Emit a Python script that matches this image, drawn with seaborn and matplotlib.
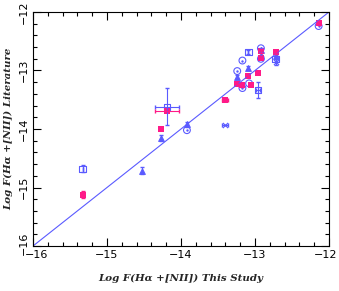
import matplotlib
matplotlib.use("Agg")
import matplotlib.pyplot as plt
import matplotlib.transforms as mtransforms
import seaborn as sns
import numpy as np
import pandas as pd
from matplotlib.ticker import MultipleLocator

# Pink filled squares
pink_x = [-15.33, -14.27, -14.19, -13.41, -13.24, -13.17, -13.09, -13.06, -12.96, -12.92, -12.92, -12.72, -12.14]
pink_y = [-15.12, -14.00, -13.69, -13.50, -13.23, -13.25, -13.10, -13.24, -13.04, -12.67, -12.78, -12.69, -12.19]
pink_xerr = [0.0, 0.0, 0.16, 0.04, 0.0, 0.0, 0.0, 0.0, 0.02, 0.0, 0.0, 0.0, 0.0]
pink_yerr = [0.06, 0.0, 0.0, 0.0, 0.0, 0.04, 0.0, 0.0, 0.0, 0.03, 0.03, 0.03, 0.03]

# Blue open squares
bsq_x = [-15.33, -14.19, -13.09, -12.96, -12.72]
bsq_y = [-14.68, -13.62, -12.68, -13.33, -12.80]
bsq_xerr = [0.0, 0.16, 0.0, 0.03, 0.0]
bsq_yerr = [0.06, 0.32, 0.03, 0.14, 0.05]

# Blue triangles
btr_x = [-14.53, -14.27, -13.92, -13.24, -13.09, -12.92, -12.72]
btr_y = [-14.71, -14.16, -13.92, -13.11, -12.96, -12.65, -12.75]
btr_yerr = [0.06, 0.05, 0.04, 0.03, 0.04, 0.04, 0.04]

# Blue circled dots
bci_x = [-13.92, -13.24, -13.17, -13.17, -13.08, -12.92, -12.92, -12.14]
bci_y = [-14.02, -13.01, -12.83, -13.30, -13.22, -12.62, -12.80, -12.24]

# Blue crosses
bcr_x = [-13.41, -12.72, -12.92]
bcr_y = [-13.94, -12.85, -12.72]
bcr_xerr = [0.04, 0.0, 0.0]
bcr_yerr = [0.0, 0.05, 0.03]

xticks = [-16, -15, -14, -13, -12]
yticks = [-16, -15, -14, -13, -12]

BLUE = "#5a5aff"
PINK = "#ff1a88"

sns.set_style("ticks")
fig = plt.figure(figsize=(3.39, 2.91), dpi=100)
ax = fig.add_axes([0.0973, 0.1546, 0.8732, 0.8042])

ax.plot([-16, -12], [-16, -12], color=BLUE, lw=0.8)

ax.errorbar(bsq_x, bsq_y, xerr=bsq_xerr, yerr=bsq_yerr, fmt="none", ecolor=BLUE, elinewidth=0.8, capsize=1.5)
ax.errorbar(btr_x, btr_y, yerr=btr_yerr, fmt="none", ecolor=BLUE, elinewidth=0.8, capsize=1.5)
ax.errorbar(bcr_x, bcr_y, xerr=bcr_xerr, yerr=bcr_yerr, fmt="none", ecolor=BLUE, elinewidth=0.8, capsize=1.5)
ax.errorbar(pink_x, pink_y, xerr=pink_xerr, yerr=pink_yerr, fmt="none", ecolor=PINK, elinewidth=0.8, capsize=1.5)

sns.scatterplot(x=bsq_x, y=bsq_y, marker="s", s=22, facecolor="none", edgecolor=BLUE, linewidth=0.8, ax=ax)
sns.scatterplot(x=btr_x, y=btr_y, marker="^", s=18, color=BLUE, edgecolor=BLUE, linewidth=0.6, ax=ax)
sns.scatterplot(x=bci_x, y=bci_y, marker="o", s=24, facecolor="none", edgecolor=BLUE, linewidth=0.8, ax=ax)
sns.scatterplot(x=bci_x, y=bci_y, marker="o", s=3, color=BLUE, edgecolor=BLUE, linewidth=0, ax=ax)
sns.scatterplot(x=bcr_x, y=bcr_y, marker="x", s=14, color=BLUE, linewidth=0.8, ax=ax)
sns.scatterplot(x=pink_x, y=pink_y, marker="s", s=14, color=PINK, edgecolor=PINK, linewidth=0, ax=ax)

ax.set_xlim(-16, -12)
ax.set_ylim(-16, -12)
ax.set_xticks(xticks)
ax.set_yticks(yticks)
ax.set_xticklabels([f"\u2212{abs(t)}" for t in xticks])
ax.set_yticklabels([f"\u2212{abs(t)}" for t in yticks], rotation=90, va="center")
ax.xaxis.set_minor_locator(MultipleLocator(0.2))
ax.yaxis.set_minor_locator(MultipleLocator(0.2))
ax.tick_params(which="both", direction="in", top=True, right=True, width=0.8, colors="black")
ax.tick_params(which="major", length=6, labelsize=8, pad=3)
ax.tick_params(which="minor", length=3)
for lab in ax.get_xticklabels() + ax.get_yticklabels():
    lab.set_fontfamily("DejaVu Sans")
for sp in ax.spines.values():
    sp.set_linewidth(0.8)
    sp.set_color("black")

# nudge end labels so they stay inside the figure and don't collide at the corner
xl = ax.get_xticklabels()
yl = ax.get_yticklabels()
xl[0].set_transform(xl[0].get_transform() + mtransforms.ScaledTranslation(4/100, 0, fig.dpi_scale_trans))
xl[-1].set_transform(xl[-1].get_transform() + mtransforms.ScaledTranslation(-3/100, 0, fig.dpi_scale_trans))
yl[0].set_transform(yl[0].get_transform() + mtransforms.ScaledTranslation(0, 3/100, fig.dpi_scale_trans))

ax.set_xlabel("Log F(H\u03b1 +[NII]) This Study", fontsize=7.4, fontstyle="italic", fontweight="bold",
              fontfamily="DejaVu Serif", labelpad=10)
ax.set_ylabel("Log F(H\u03b1 +[NII]) Literature", fontsize=7.4, fontstyle="italic", fontweight="bold",
              fontfamily="DejaVu Serif", labelpad=4)

fig.savefig("out.png", dpi=100)
